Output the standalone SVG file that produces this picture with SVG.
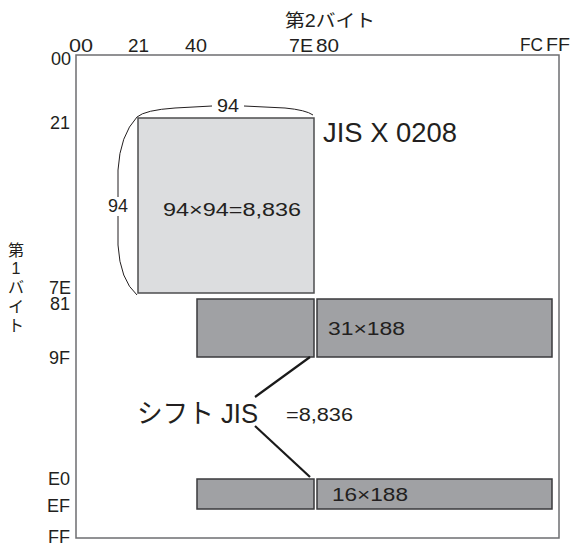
<svg xmlns="http://www.w3.org/2000/svg" width="574" height="546" viewBox="0 0 574 546">
<style>
text{font-family:"Liberation Sans","Noto Sans CJK JP",sans-serif;fill:#231f20}
.ax{font-size:19px}
.axl{font-size:18px;text-anchor:end}
.lab{font-size:18px}
.vt{font-size:16px;text-anchor:middle}
.big{font-size:27px}
.frame{fill:#fff;stroke:#6d6e70;stroke-width:1.5}
.light{fill:#dcdddf;stroke:#4d4d4f;stroke-width:1.5}
.dark{fill:#a0a1a4;stroke:#3a3a3c;stroke-width:1.5}
.brace{fill:none;stroke:#231f20;stroke-width:1}
.conn{fill:none;stroke:#1a1a1a;stroke-width:2.2}
</style>
<g id="frame">
<rect class="frame" x="76" y="55" width="483" height="483"/>
</g>
<g id="title2">
<text x="285" y="27" class="lab" textLength="90" lengthAdjust="spacingAndGlyphs">第2バイト</text>
</g>
<g id="title1">
<text class="vt" x="16" y="256">第</text>
<text class="vt" x="16" y="274">1</text>
<text class="vt" x="16" y="293">バ</text>
<text class="vt" x="16" y="312">イ</text>
<text class="vt" x="16" y="331">ト</text>
</g>
<g id="axis-top">
<text class="ax" x="69" y="52" textLength="24" lengthAdjust="spacingAndGlyphs">00</text>
<text class="ax" x="128" y="52" textLength="21" lengthAdjust="spacingAndGlyphs">21</text>
<text class="ax" x="185" y="52" textLength="22" lengthAdjust="spacingAndGlyphs">40</text>
<text class="ax" x="289" y="52" textLength="24" lengthAdjust="spacingAndGlyphs">7E</text>
<text class="ax" x="316" y="52" textLength="23" lengthAdjust="spacingAndGlyphs">80</text>
<text class="ax" x="520" y="51" textLength="23" lengthAdjust="spacingAndGlyphs">FC</text>
<text class="ax" x="546" y="51" textLength="24" lengthAdjust="spacingAndGlyphs">FF</text>
</g>
<g id="axis-left">
<text class="axl" x="71" y="65">00</text>
<text class="axl" x="70" y="129">21</text>
<text class="axl" x="71" y="294">7E</text>
<text class="axl" x="70" y="310">81</text>
<text class="axl" x="70" y="364">9F</text>
<text class="axl" x="70" y="485">E0</text>
<text class="axl" x="70" y="512">EF</text>
<text class="axl" x="70" y="543">FF</text>
</g>
<g id="jis0208">
<rect class="light" x="138" y="118" width="176" height="175"/>
<path class="brace" d="M137,117 Q145,110 175,108 L212,106 M244,106 L285,108 Q306,110 313,115"/>
<text class="lab" x="217" y="112" font-size="15" textLength="22" lengthAdjust="spacingAndGlyphs">94</text>
<path class="brace" d="M137,117 Q120,135 118,170 L118,197 M118,216 L118,245 Q120,280 137,295"/>
<text class="lab" x="108" y="212" font-size="15" textLength="20" lengthAdjust="spacingAndGlyphs">94</text>
<text class="lab" x="163" y="216" textLength="138" lengthAdjust="spacingAndGlyphs">94×94=8,836</text>
<text class="big" x="323" y="142" textLength="134" lengthAdjust="spacingAndGlyphs">JIS X 0208</text>
</g>
<g id="sjis-top">
<rect class="dark" x="197" y="299" width="117" height="58"/>
<rect class="dark" x="317" y="299" width="235" height="58"/>
<text class="lab" x="328" y="335" textLength="77" lengthAdjust="spacingAndGlyphs">31×188</text>
</g>
<g id="sjis-bottom">
<rect class="dark" x="197" y="479" width="117" height="30"/>
<rect class="dark" x="317" y="479" width="235" height="30"/>
<text class="lab" x="332" y="501" textLength="76" lengthAdjust="spacingAndGlyphs">16×188</text>
</g>
<g id="sjis-label">
<text class="big" x="137" y="423" textLength="121" lengthAdjust="spacingAndGlyphs">シフト JIS</text>
<text class="lab" x="286" y="421" textLength="67" lengthAdjust="spacingAndGlyphs">=8,836</text>
</g>
<g id="connectors">
<line class="conn" x1="310" y1="357" x2="255" y2="397"/>
<line class="conn" x1="255" y1="426" x2="310" y2="477"/>
</g>
</svg>
